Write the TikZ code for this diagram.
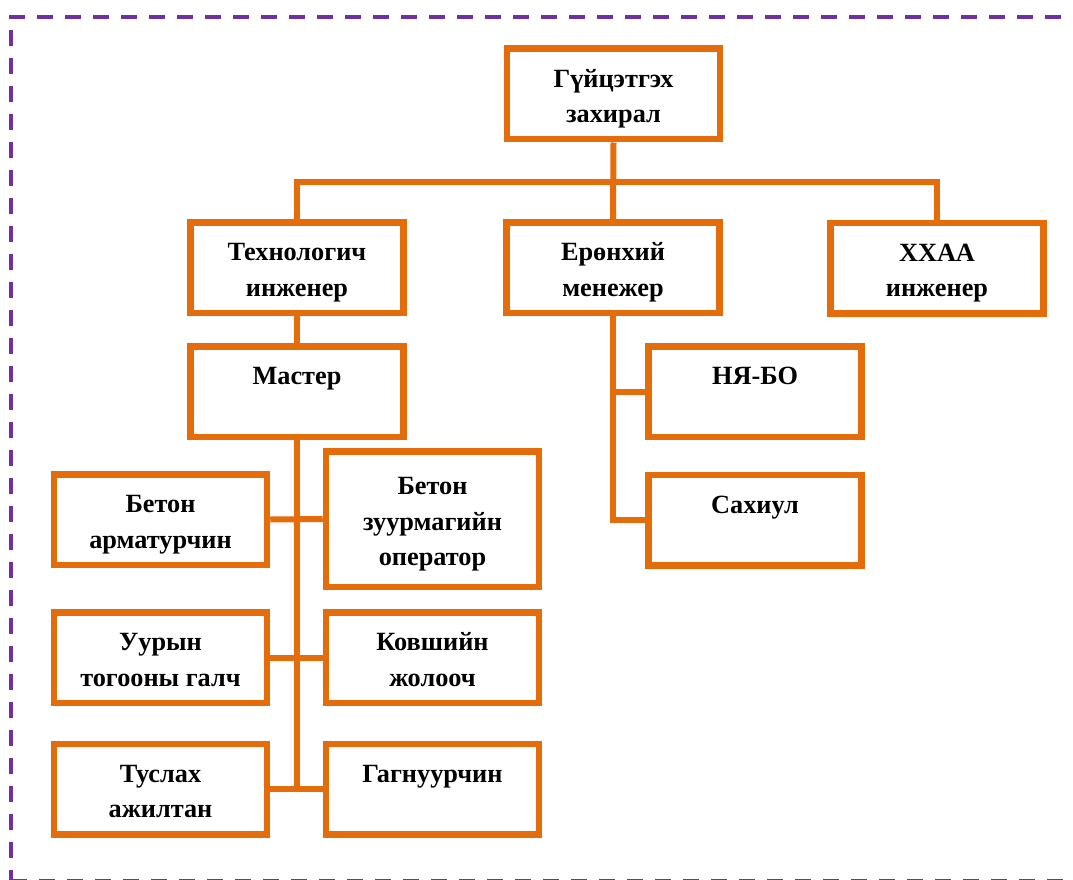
\documentclass[tikz,border=0pt]{standalone}
\usepackage{fontspec}
\setmainfont{Liberation Serif}
\definecolor{boxorange}{HTML}{E46C0A}
\definecolor{framepurple}{HTML}{7030A0}
\newcommand\boxstrut{\rule[-6.65pt]{0pt}{35.5pt}}
\begin{document}
\begin{tikzpicture}[x=1pt,y=-1pt,
  box/.style={draw=boxorange, line width=6.5pt, fill=white, rectangle,
    minimum width=213pt, minimum height=90.5pt, inner sep=2pt,
    align=center, font=\fontsize{26.3}{35.5}\selectfont\bfseries},
  conn/.style={draw=boxorange, line width=6pt},
  frame/.style={draw=framepurple, line width=4pt, dash pattern=on 16pt off 12pt}]
\useasboundingbox (0,0) rectangle (1073,880);
% frame
\coordinate (ftl) at (11,17);
\coordinate (ftr) at (1090,17);
\coordinate (fbl) at (11,881);
\coordinate (fbr) at (1090,881);
\draw[frame] (9,17) -- (ftr);
\draw[frame, dash phase=15pt] (ftl) -- (fbl);
\draw[frame] (fbl) -- (fbr);
% nodes
\node[box] (top) at (613.5,94) {Гүйцэтгэх\boxstrut\\захирал\boxstrut};
\node[box] (tech) at (297,267.5) {Технологич\boxstrut\\инженер\boxstrut};
\node[box] (eron) at (613,267.5) {Ерөнхий\boxstrut\\менежер\boxstrut};
\node[box] (xxaa) at (937,268) {ХХАА\boxstrut\\инженер\boxstrut};
\node[box] (master) at (297,391.5) {Мастер\boxstrut\\\boxstrut};
\node[box] (nyabo) at (755,391.5) {НЯ-БО\boxstrut\\\boxstrut};
\node[box] (sah) at (755,520) {Сахиул\boxstrut\\\boxstrut};
\node[box] (arm) at (160.5,519.5) {Бетон\boxstrut\\арматурчин\boxstrut};
\node[box, minimum height=135.5pt] (oper) at (432.5,519) {Бетон\boxstrut\\зуурмагийн\boxstrut\\оператор\boxstrut};
\node[box] (uur) at (160.5,657.5) {Уурын\boxstrut\\тогооны галч\boxstrut};
\node[box] (kov) at (432.5,657.5) {Ковшийн\boxstrut\\жолооч\boxstrut};
\node[box] (tus) at (160.5,789) {Туслах\boxstrut\\ажилтан\boxstrut};
\node[box] (gag) at (432.5,789) {Гагнуурчин\boxstrut\\\boxstrut};
% connectors
\coordinate (bar) at (613.5,182);
\draw[conn] (top.south) -- (eron.north);
\draw[conn] (tech.north) -- (tech.north |- bar) -- (xxaa.north |- bar) -- (xxaa.north);
\draw[conn] (tech.south) -- (master.north);
\draw[conn] (master.south) -- (master.south |- tus.east);
\draw[conn] (arm.east) -- (oper.west);
\draw[conn] (uur.east) -- (kov.west);
\draw[conn] (tus.east) -- (gag.west);
\draw[conn] (eron.south) -- (eron.south |- sah.west) -- (sah.west);
\draw[conn] (eron.south |- nyabo.west) -- (nyabo.west);
\end{tikzpicture}
\end{document}
